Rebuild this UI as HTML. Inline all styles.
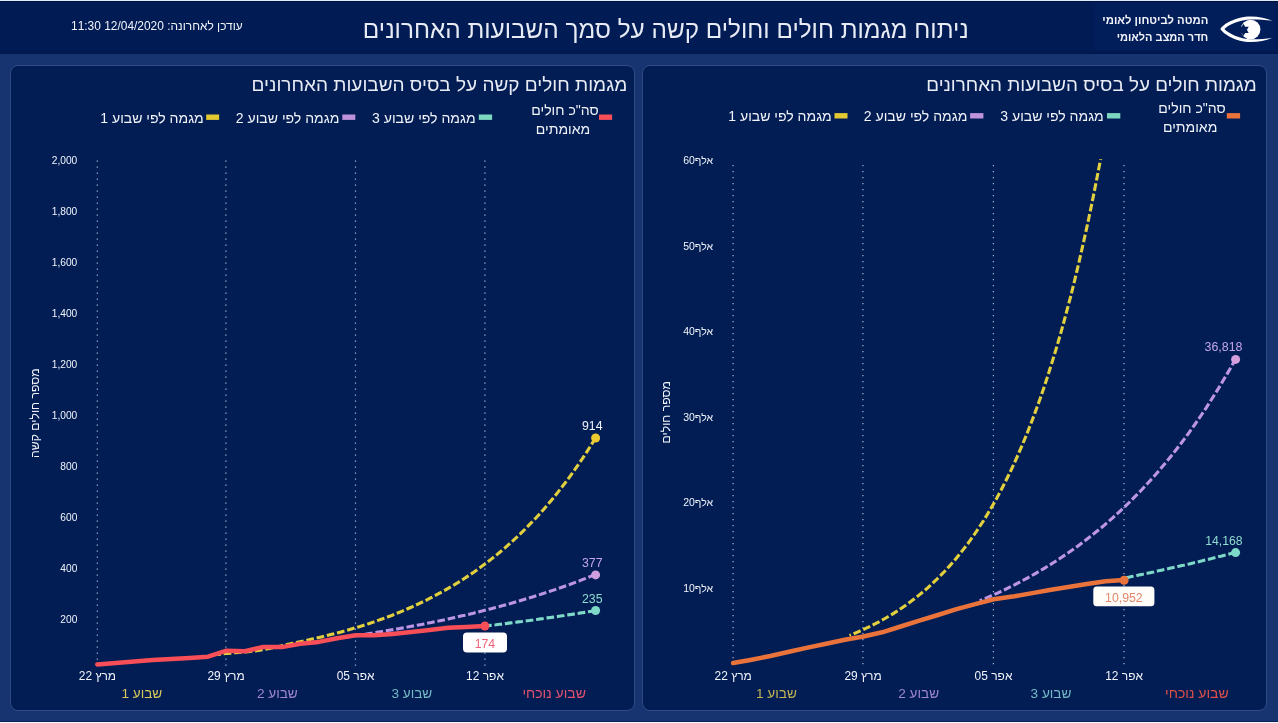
<!DOCTYPE html>
<html lang="he">
<head>
<meta charset="utf-8">
<title>ניתוח מגמות חולים וחולים קשה</title>
<style>
html,body{margin:0;padding:0;}
body{width:1278px;height:723px;overflow:hidden;background:#173370;position:relative;font-family:"Liberation Sans",sans-serif;}
#topline{position:absolute;left:0;top:0;width:1278px;height:1px;background:#dce9ff;}
#topdark{position:absolute;left:0;top:1px;width:1278px;height:1px;background:#01123a;}
#hdrband{position:absolute;left:0;top:51px;width:1278px;height:3px;background:#01194e;}
#botdark{position:absolute;left:0;top:721px;width:1278px;height:1px;background:#0a1f5c;}
#botline{position:absolute;left:0;top:722px;width:1278px;height:1px;background:#f1f5fc;}
#header{position:absolute;left:0;top:1px;width:1278px;height:53px;background:#011c54;}
.card{position:absolute;top:65px;width:623px;height:644px;background:#011d54;border:1px solid #2d4b87;border-radius:8px;}
#cardL{left:10px;}
#cardR{left:642px;}
#ov{position:absolute;left:0;top:0;}
#ov text{font-family:"Liberation Sans",sans-serif;white-space:pre;}
</style>
</head>
<body>
<div id="header"></div>
<div id="topline"></div>
<div id="topdark"></div>
<div id="hdrband"></div>
<div id="botdark"></div>
<div id="botline"></div>
<div class="card" id="cardL"></div>
<div class="card" id="cardR"></div>
<svg id="ov" width="1278" height="723" viewBox="0 0 1278 723">
<rect x="1094" y="3" width="182" height="48" fill="#021e5a"/>
<text x="665.8" y="38" text-anchor="middle" fill="#e8ebf4" style="font-size:24.34px;direction:rtl;" >ניתוח מגמות חולים וחולים קשה על סמך השבועות האחרונים</text>
<text x="156.9" y="29.6" text-anchor="middle" fill="#f2f4fa" style="font-size:11.93px;direction:rtl;" >עודכן לאחרונה: 12/04/2020 11:30</text>
<text x="1155.3" y="23.9" text-anchor="middle" fill="#f2f4fa" style="font-size:11.29px;font-weight:bold;direction:rtl;" >המטה לביטחון לאומי</text>
<text x="1162.5" y="40.9" text-anchor="middle" fill="#f2f4fa" style="font-size:11.03px;font-weight:bold;direction:rtl;" >חדר המצב הלאומי</text>
<g id="logo">
<path d="M1220.4 29 C1222.5 24.5 1236 16.4 1251 16.5 C1259 16.6 1266 18.3 1272 20.6 C1266 19.9 1259 19.4 1251 19.4 C1240 19.5 1228 24.8 1224.4 29 C1228 33.2 1240 39.1 1251 39.3 C1259 39.4 1266 38.8 1272.5 37.8 C1266 40.4 1259 42 1251 42.1 C1236 42.2 1222.5 33.5 1220.4 29 Z" fill="#ffffff"/>
<circle cx="1250.6" cy="29.5" r="9.8" fill="#ffffff"/>
<polygon points="1243.4,23.7 1248.7,32.9 1238.1,32.9" fill="#021e5a"/>
<polygon points="1243.4,35.9 1238.1,26.8 1248.7,26.8" fill="#021e5a"/>
</g>
<text x="439.4" y="91" text-anchor="middle" fill="#e8ebf4" style="font-size:19.0px;direction:rtl;" >מגמות חולים קשה על בסיס השבועות האחרונים</text>
<text x="1091.5" y="91" text-anchor="middle" fill="#e8ebf4" style="font-size:18.85px;direction:rtl;" >מגמות חולים על בסיס השבועות האחרונים</text>
<rect x="599" y="114.5" width="13.1" height="5.4" fill="#f84e57"/>
<rect x="478.8" y="114.5" width="13.3" height="5.4" fill="#7dd7be"/>
<rect x="342.3" y="114.5" width="13" height="5.4" fill="#be93dc"/>
<rect x="206.2" y="114.5" width="12.9" height="5.4" fill="#e4c830"/>
<rect x="1226.8" y="113.1" width="13.3" height="5.4" fill="#e9733a"/>
<rect x="1107" y="113.1" width="13.3" height="5.4" fill="#7dd7be"/>
<rect x="970.1" y="113.1" width="13.3" height="5.4" fill="#be93dc"/>
<rect x="834.5" y="113.1" width="13" height="5.4" fill="#e4c830"/>
<text x="565" y="115" text-anchor="middle" fill="#f2f4fa" style="font-size:14.05px;direction:rtl;" >סה"כ חולים</text>
<text x="563" y="133.7" text-anchor="middle" fill="#f2f4fa" style="font-size:14.05px;direction:rtl;" >מאומתים</text>
<text x="423.8" y="122.9" text-anchor="middle" fill="#f2f4fa" style="font-size:14.05px;direction:rtl;" >מגמה לפי שבוע 3</text>
<text x="287.6" y="122.9" text-anchor="middle" fill="#f2f4fa" style="font-size:14.05px;direction:rtl;" >מגמה לפי שבוע 2</text>
<text x="152" y="122.9" text-anchor="middle" fill="#f2f4fa" style="font-size:14.05px;direction:rtl;" >מגמה לפי שבוע 1</text>
<text x="1192.1" y="113.1" text-anchor="middle" fill="#f2f4fa" style="font-size:14.05px;direction:rtl;" >סה"כ חולים</text>
<text x="1190.1" y="131.9" text-anchor="middle" fill="#f2f4fa" style="font-size:14.05px;direction:rtl;" >מאומתים</text>
<text x="1052" y="121.1" text-anchor="middle" fill="#f2f4fa" style="font-size:14.05px;direction:rtl;" >מגמה לפי שבוע 3</text>
<text x="915.6" y="121.1" text-anchor="middle" fill="#f2f4fa" style="font-size:14.05px;direction:rtl;" >מגמה לפי שבוע 2</text>
<text x="780" y="121.1" text-anchor="middle" fill="#f2f4fa" style="font-size:14.05px;direction:rtl;" >מגמה לפי שבוע 1</text>
<text x="77.3" y="163.8" text-anchor="end" fill="#f2f4fa" style="font-size:10.2px;" >2,000</text>
<text x="77.3" y="214.8" text-anchor="end" fill="#f2f4fa" style="font-size:10.2px;" >1,800</text>
<text x="77.3" y="265.8" text-anchor="end" fill="#f2f4fa" style="font-size:10.2px;" >1,600</text>
<text x="77.3" y="316.8" text-anchor="end" fill="#f2f4fa" style="font-size:10.2px;" >1,400</text>
<text x="77.3" y="367.8" text-anchor="end" fill="#f2f4fa" style="font-size:10.2px;" >1,200</text>
<text x="77.3" y="418.8" text-anchor="end" fill="#f2f4fa" style="font-size:10.2px;" >1,000</text>
<text x="77.3" y="469.8" text-anchor="end" fill="#f2f4fa" style="font-size:10.2px;" >800</text>
<text x="77.3" y="520.8" text-anchor="end" fill="#f2f4fa" style="font-size:10.2px;" >600</text>
<text x="77.3" y="571.8" text-anchor="end" fill="#f2f4fa" style="font-size:10.2px;" >400</text>
<text x="77.3" y="622.8" text-anchor="end" fill="#f2f4fa" style="font-size:10.2px;" >200</text>
<text x="713.1" y="164.1" text-anchor="end" fill="#f2f4fa" style="font-size:10.5px;" >60אלף</text>
<text x="713.1" y="249.6" text-anchor="end" fill="#f2f4fa" style="font-size:10.5px;" >50אלף</text>
<text x="713.1" y="335.2" text-anchor="end" fill="#f2f4fa" style="font-size:10.5px;" >40אלף</text>
<text x="713.1" y="420.7" text-anchor="end" fill="#f2f4fa" style="font-size:10.5px;" >30אלף</text>
<text x="713.1" y="506.3" text-anchor="end" fill="#f2f4fa" style="font-size:10.5px;" >20אלף</text>
<text x="713.1" y="591.8" text-anchor="end" fill="#f2f4fa" style="font-size:10.5px;" >10אלף</text>
<text transform="translate(39.1 413.1) rotate(-90)" text-anchor="middle" fill="#f2f4fa" style="font-size:12.2px;direction:rtl">מספר חולים קשה</text>
<text transform="translate(670 412.3) rotate(-90)" text-anchor="middle" fill="#f2f4fa" style="font-size:12.2px;direction:rtl">מספר חולים</text>
<line x1="97.3" x2="97.3" y1="160.5" y2="666.2" stroke="#aab6d6" stroke-width="1.2" stroke-dasharray="1.2 4.8"/>
<line x1="225.9" x2="225.9" y1="160.5" y2="666.2" stroke="#aab6d6" stroke-width="1.2" stroke-dasharray="1.2 4.8"/>
<line x1="355.5" x2="355.5" y1="160.5" y2="666.2" stroke="#aab6d6" stroke-width="1.2" stroke-dasharray="1.2 4.8"/>
<line x1="484.9" x2="484.9" y1="160.5" y2="666.2" stroke="#aab6d6" stroke-width="1.2" stroke-dasharray="1.2 4.8"/>
<line x1="733.1" x2="733.1" y1="165" y2="665" stroke="#aab6d6" stroke-width="1.2" stroke-dasharray="1.2 4.8"/>
<line x1="862.9" x2="862.9" y1="165" y2="665" stroke="#aab6d6" stroke-width="1.2" stroke-dasharray="1.2 4.8"/>
<line x1="993.4" x2="993.4" y1="165" y2="665" stroke="#aab6d6" stroke-width="1.2" stroke-dasharray="1.2 4.8"/>
<line x1="1124" x2="1124" y1="165" y2="665" stroke="#aab6d6" stroke-width="1.2" stroke-dasharray="1.2 4.8"/>
<text x="97.4" y="680.4" text-anchor="middle" fill="#f2f4fa" style="font-size:11.95px;" >22 מרץ</text>
<text x="226" y="680.4" text-anchor="middle" fill="#f2f4fa" style="font-size:11.95px;" >29 מרץ</text>
<text x="355.6" y="680.4" text-anchor="middle" fill="#f2f4fa" style="font-size:11.95px;" >05 אפר</text>
<text x="485" y="680.4" text-anchor="middle" fill="#f2f4fa" style="font-size:11.95px;" >12 אפר</text>
<text x="733.2" y="680.4" text-anchor="middle" fill="#f2f4fa" style="font-size:11.95px;" >22 מרץ</text>
<text x="863" y="680.4" text-anchor="middle" fill="#f2f4fa" style="font-size:11.95px;" >29 מרץ</text>
<text x="993.5" y="680.4" text-anchor="middle" fill="#f2f4fa" style="font-size:11.95px;" >05 אפר</text>
<text x="1124.1" y="680.4" text-anchor="middle" fill="#f2f4fa" style="font-size:11.95px;" >12 אפר</text>
<text x="141.8" y="697.9" text-anchor="middle" fill="#d6c85a" style="font-size:13.6px;direction:rtl;" >שבוע 1</text>
<text x="277.3" y="697.9" text-anchor="middle" fill="#9f85d2" style="font-size:13.6px;direction:rtl;" >שבוע 2</text>
<text x="411.8" y="697.9" text-anchor="middle" fill="#74b9c4" style="font-size:13.6px;direction:rtl;" >שבוע 3</text>
<text x="554.2" y="697.9" text-anchor="middle" fill="#e2506e" style="font-size:14.0px;direction:rtl;" >שבוע נוכחי</text>
<text x="776.4" y="697.9" text-anchor="middle" fill="#c2b452" style="font-size:13.6px;direction:rtl;" >שבוע 1</text>
<text x="918.7" y="697.9" text-anchor="middle" fill="#9f85d2" style="font-size:13.6px;direction:rtl;" >שבוע 2</text>
<text x="1051" y="697.9" text-anchor="middle" fill="#74b9c4" style="font-size:13.6px;direction:rtl;" >שבוע 3</text>
<text x="1196.9" y="697.9" text-anchor="middle" fill="#dc5048" style="font-size:14.0px;direction:rtl;" >שבוע נוכחי</text>
<path d="M595.6 437.8 L590.9 445.4 L586.2 452.8 L581.5 460 L576.7 466.9 L572 473.6 L567.3 480.1 L562.5 486.3 L557.8 492.4 L553.1 498.2 L548.3 503.9 L543.6 509.4 L538.9 514.7 L534.2 519.8 L529.4 524.7 L524.7 529.5 L520 534.2 L515.2 538.7 L510.5 543 L505.8 547.2 L501 551.2 L496.3 555.1 L491.6 558.9 L486.9 562.6 L482.1 566.1 L477.4 569.6 L472.7 572.9 L467.9 576.1 L463.2 579.2 L458.5 582.2 L453.8 585.1 L449 587.9 L444.3 590.6 L439.6 593.2 L434.8 595.8 L430.1 598.2 L425.4 600.6 L420.6 602.9 L415.9 605.1 L411.2 607.3 L406.5 609.3 L401.7 611.4 L397 613.3 L392.3 615.2 L387.5 617 L382.8 618.7 L378.1 620.4 L373.3 622.1 L368.6 623.7 L363.9 625.2 L359.2 626.7 L354.4 628.1 L349.7 629.5 L345 630.9 L340.2 632.2 L335.5 633.4 L330.8 634.6 L326.1 635.8 L321.3 637 L316.6 638.1 L311.9 639.1 L307.1 640.2 L302.4 641.2 L297.7 642.2 L292.9 643.3 L288.2 644.3 L283.5 645.4 L278.8 646.5 L274 647.5 L269.3 648.5 L264.6 649.5 L259.8 650.3 L255.1 650.9 L250.4 651.4 L245.6 651.9 L240.9 652.3 L236.2 652.6 L231.5 653.1 L226.7 653.5 L222 654 L217.3 654.4" fill="none" stroke="#e2cf3e" stroke-width="3.1" stroke-dasharray="7.7 2.8"/>
<path d="M595.6 574.5 L591.4 576.1 L587.2 577.8 L583 579.4 L578.8 581.1 L574.6 582.6 L570.4 584.2 L566.1 585.7 L561.9 587.2 L557.7 588.7 L553.5 590.1 L549.3 591.5 L545.1 592.9 L540.9 594.3 L536.6 595.6 L532.4 596.9 L528.2 598.2 L524 599.5 L519.8 600.8 L515.6 602 L511.4 603.2 L507.1 604.4 L502.9 605.6 L498.7 606.7 L494.5 607.8 L490.3 608.9 L486.1 610 L481.9 611.1 L477.6 612.1 L473.4 613.2 L469.2 614.2 L465 615.2 L460.8 616.1 L456.6 617.1 L452.4 618 L448.1 619 L443.9 619.9 L439.7 620.8 L435.5 621.6 L431.3 622.5 L427.1 623.3 L422.9 624.2 L418.6 625 L414.4 625.8 L410.2 626.6 L406 627.4 L401.8 628.1 L397.6 628.9 L393.4 629.6 L389.1 630.3 L384.9 631 L380.7 631.7 L376.5 632.4 L372.3 633.1 L368.1 633.7 L363.8 634.4 L359.6 635 L355.4 635.6 L351.2 636.2 L347 636.9 L342.8 637.4" fill="none" stroke="#bd95e4" stroke-width="3.1" stroke-dasharray="7.7 2.8"/>
<path d="M595.6 610.6 L593.8 610.9 L591.9 611.2 L590.1 611.5 L588.3 611.8 L586.4 612.1 L584.6 612.4 L582.7 612.7 L580.9 612.9 L579 613.2 L577.2 613.5 L575.3 613.8 L573.5 614.1 L571.6 614.4 L569.8 614.6 L568 614.9 L566.1 615.2 L564.3 615.5 L562.4 615.7 L560.6 616 L558.7 616.3 L556.9 616.6 L555 616.8 L553.2 617.1 L551.3 617.4 L549.5 617.6 L547.7 617.9 L545.8 618.2 L544 618.4 L542.1 618.7 L540.3 618.9 L538.4 619.2 L536.6 619.5 L534.7 619.7 L532.9 620 L531 620.2 L529.2 620.5 L527.3 620.7 L525.5 621 L523.7 621.2 L521.8 621.5 L520 621.7 L518.1 621.9 L516.3 622.2 L514.4 622.4 L512.6 622.7 L510.7 622.9 L508.9 623.1 L507 623.4 L505.2 623.6 L503.4 623.8 L501.5 624.1 L499.7 624.3 L497.8 624.5 L496 624.8 L494.1 625 L492.3 625.2 L490.4 625.4 L488.6 625.7 L486.7 625.9 L484.9 626.1" fill="none" stroke="#7fd9c8" stroke-width="3.1" stroke-dasharray="7.7 2.8"/>
<path d="M97.3 664.4 L115.8 663 L134.2 661.5 L152.7 660 L171.1 659 L189.6 658 L208 656.7 L226.5 650.7 L245 651.3 L263.4 646.9 L281.9 647.1 L300.3 643.8 L318.8 641.9 L337.2 638.3 L355.7 635.3 L374.2 635.2 L392.6 634 L411.1 632.1 L429.5 630 L448 627.8 L466.4 627 L484.9 626" fill="none" stroke="#f84e57" stroke-width="4.5" stroke-linejoin="round" stroke-linecap="round"/>
<circle cx="595.6" cy="438" r="4.5" fill="#edc932"/>
<circle cx="595.6" cy="574.9" r="4.5" fill="#cf9fe0"/>
<circle cx="595.6" cy="610.5" r="4.5" fill="#7fd9c8"/>
<circle cx="484.9" cy="626" r="4.5" fill="#f84e57"/>
<text x="592.3" y="430.1" text-anchor="middle" fill="#f2f4fa" style="font-size:12.3px;" >914</text>
<text x="592.3" y="567" text-anchor="middle" fill="#c3a6ea" style="font-size:12.3px;" >377</text>
<text x="592.3" y="603" text-anchor="middle" fill="#8fdccf" style="font-size:12.3px;" >235</text>
<rect x="463" y="632.4" width="44" height="20.2" rx="4" fill="#ffffff"/>
<text x="484.9" y="647.7" text-anchor="middle" fill="#f0637a" style="font-size:12.3px;" >174</text>
<clipPath id="cr"><rect x="700" y="159.3" width="560" height="520"/></clipPath>
<g clip-path="url(#cr)">
<path d="M1109.2 111 L1104.9 135.7 L1100.6 159.2 L1096.2 181.8 L1091.9 203.4 L1087.6 224 L1083.2 243.7 L1078.9 262.6 L1074.6 280.6 L1070.3 297.8 L1065.9 314.3 L1061.6 330.1 L1057.3 345.1 L1052.9 359.5 L1048.6 373.3 L1044.3 386.5 L1040 399.1 L1035.6 411.1 L1031.3 422.6 L1027 433.6 L1022.6 444.2 L1018.3 454.2 L1014 463.8 L1009.7 473 L1005.3 481.8 L1001 490.3 L996.7 498.3 L992.3 506 L988 513.3 L983.7 520.4 L979.3 527.1 L975 533.5 L970.7 539.7 L966.4 545.5 L962 551.1 L957.7 556.5 L953.4 561.7 L949 566.6 L944.7 571.3 L940.4 575.7 L936.1 580 L931.7 584.1 L927.4 588.1 L923.1 591.8 L918.7 595.4 L914.4 598.8 L910.1 602.1 L905.8 605.2 L901.4 608.2 L897.1 611.1 L892.8 613.9 L888.4 616.5 L884.1 619 L879.8 621.4 L875.4 623.7 L871.1 625.9 L866.8 627.9 L862.5 630 L858.1 631.9 L853.8 633.7 L849.5 635.4" fill="none" stroke="#e2cf3e" stroke-width="3.1" stroke-dasharray="7.7 2.8"/>
</g>
<path d="M1235.8 358.6 L1231.6 366.2 L1227.3 373.6 L1223 380.8 L1218.8 387.9 L1214.5 394.8 L1210.2 401.5 L1206 408.1 L1201.7 414.5 L1197.4 420.7 L1193.2 426.8 L1188.9 432.8 L1184.6 438.6 L1180.4 444.2 L1176.1 449.8 L1171.8 455.2 L1167.6 460.4 L1163.3 465.6 L1159 470.6 L1154.8 475.5 L1150.5 480.3 L1146.2 484.9 L1142 489.5 L1137.7 493.9 L1133.4 498.2 L1129.2 502.5 L1124.9 506.6 L1120.6 510.6 L1116.4 514.5 L1112.1 518.4 L1107.8 522.1 L1103.6 525.8 L1099.3 529.3 L1095 532.8 L1090.8 536.2 L1086.5 539.5 L1082.2 542.8 L1078 545.9 L1073.7 549 L1069.4 552 L1065.2 554.9 L1060.9 557.8 L1056.6 560.6 L1052.4 563.3 L1048.1 566 L1043.8 568.6 L1039.6 571.1 L1035.3 573.6 L1031 576 L1026.8 578.3 L1022.5 580.6 L1018.2 582.9 L1014 585.1 L1009.7 587.2 L1005.4 589.3 L1001.2 591.3 L996.9 593.3 L992.6 595.2 L988.3 597.1 L984.1 599 L979.8 600.8" fill="none" stroke="#bd95e4" stroke-width="3.1" stroke-dasharray="7.7 2.8"/>
<path d="M1235.8 552.4 L1234 552.9 L1232.1 553.3 L1230.3 553.8 L1228.4 554.3 L1226.5 554.8 L1224.7 555.2 L1222.8 555.7 L1220.9 556.2 L1219.1 556.6 L1217.2 557.1 L1215.4 557.6 L1213.5 558 L1211.6 558.5 L1209.8 558.9 L1207.9 559.4 L1206 559.9 L1204.2 560.3 L1202.3 560.8 L1200.5 561.2 L1198.6 561.7 L1196.7 562.1 L1194.9 562.5 L1193 563 L1191.2 563.4 L1189.3 563.9 L1187.4 564.3 L1185.6 564.7 L1183.7 565.2 L1181.8 565.6 L1180 566 L1178.1 566.4 L1176.3 566.9 L1174.4 567.3 L1172.5 567.7 L1170.7 568.1 L1168.8 568.6 L1166.9 569 L1165.1 569.4 L1163.2 569.8 L1161.4 570.2 L1159.5 570.6 L1157.6 571 L1155.8 571.4 L1153.9 571.9 L1152.1 572.3 L1150.2 572.7 L1148.3 573.1 L1146.5 573.5 L1144.6 573.9 L1142.7 574.3 L1140.9 574.6 L1139 575 L1137.2 575.4 L1135.3 575.8 L1133.4 576.2 L1131.6 576.6 L1129.7 577 L1127.8 577.4 L1126 577.7 L1124.1 578.1" fill="none" stroke="#7fd9c8" stroke-width="3.1" stroke-dasharray="7.7 2.8"/>
<path d="M733.1 663 L751.7 659.7 L770.3 656 L789 651.8 L807.6 647.6 L826.2 643.7 L844.8 639.8 L863.4 636.5 L882.1 632.3 L900.7 626.5 L919.3 620.7 L937.9 615 L956.5 609.2 L975.2 604.2 L993.8 599.3 L1012.4 596.6 L1031 593.4 L1049.6 590 L1068.3 587 L1086.9 584 L1105.5 581.2 L1124.1 579.9" fill="none" stroke="#e9733a" stroke-width="4.5" stroke-linejoin="round" stroke-linecap="round"/>
<circle cx="1235.6" cy="359.4" r="4.5" fill="#d7a0dc"/>
<circle cx="1235.6" cy="552.6" r="4.5" fill="#7fd9c8"/>
<circle cx="1124.1" cy="580.3" r="4.5" fill="#e9733a"/>
<text x="1223.5" y="351" text-anchor="middle" fill="#c3a6ea" style="font-size:12.4px;" >36,818</text>
<text x="1223.9" y="544.9" text-anchor="middle" fill="#8fdccf" style="font-size:12.2px;" >14,168</text>
<rect x="1093.3" y="586.4" width="61.1" height="19.9" rx="3.5" fill="#fffdfa"/>
<text x="1123.9" y="601.5" text-anchor="middle" fill="#e2876a" style="font-size:12.3px;" >10,952</text>
</svg>
</body>
</html>
